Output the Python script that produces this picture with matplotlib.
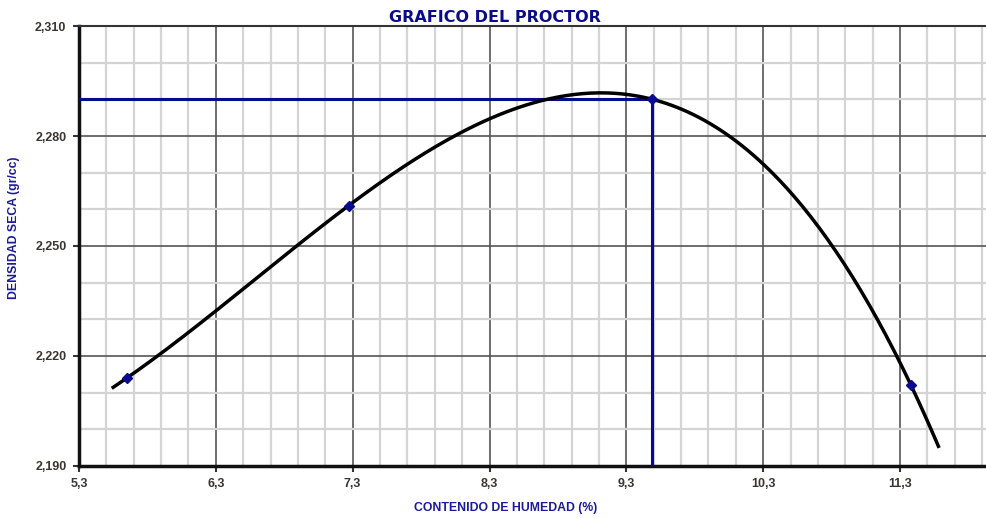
import numpy as np
import matplotlib
matplotlib.use('Agg')
import matplotlib.pyplot as plt
from matplotlib.ticker import FixedLocator, FuncFormatter

# Ensayo Proctor: puntos medidos
humedad = [5.65, 7.27, 9.49, 11.38]
densidad = [2.214, 2.261, 2.290, 2.212]

# Tramo de la linea de tendencia (polinomica de grado 3)
tendencia_desde = 5.55
tendencia_hasta = 11.58

# Humedad optima y densidad maxima
och = 9.49
mds = 2.290

x_ticks = [5.3, 6.3, 7.3, 8.3, 9.3, 10.3, 11.3]
y_ticks = [2.190, 2.220, 2.250, 2.280, 2.310]

plt.rcParams['font.family'] = ['Liberation Sans', 'DejaVu Sans']

fig = plt.figure(figsize=(9.87, 5.18), dpi=100)
ax = fig.add_axes([0.080, 0.1004, 0.92, 0.8494])

ax.set_xlim(5.3, 11.935)
ax.set_ylim(2.190, 2.310)
ax.xaxis.set_major_locator(FixedLocator(x_ticks))
ax.xaxis.set_minor_locator(FixedLocator([round(5.3 + 0.2 * i, 2) for i in range(34)]))
ax.yaxis.set_major_locator(FixedLocator(y_ticks))
ax.yaxis.set_minor_locator(FixedLocator([round(2.19 + 0.01 * i, 3) for i in range(13)]))
ax.xaxis.set_major_formatter(FuncFormatter(lambda v, p: f'{v:.1f}'.replace('.', ',')))
ax.yaxis.set_major_formatter(FuncFormatter(lambda v, p: f'{v:.3f}'.replace('.', ',')))

ax.grid(which='minor', color='#d4d4d4', linewidth=1.6)
ax.grid(which='major', color='#555555', linewidth=1.2)
ax.set_axisbelow(True)

ax.tick_params(which='minor', length=0)
ax.tick_params(which='major', length=4, width=1.5, color='#333333',
               labelsize=9, labelcolor='#3a3530', pad=5)
for lab in ax.get_xticklabels() + ax.get_yticklabels():
    lab.set_fontweight('bold')

for side in ['left', 'bottom']:
    ax.spines[side].set_linewidth(2.5)
    ax.spines[side].set_color('#111111')
ax.spines['top'].set_linewidth(1.5)
ax.spines['top'].set_color('#333333')
ax.spines['right'].set_visible(False)

# Lineas de lectura
ax.plot([5.3, och], [mds, mds], color='#0a0a8c', linewidth=2.2, zorder=3)
ax.plot([och, och], [2.190, mds], color='#0a0a8c', linewidth=2.2, zorder=3)

# Linea de tendencia polinomica (grado 3) de los puntos medidos
coef = np.polyfit(humedad, densidad, 3)
xs = np.linspace(tendencia_desde, tendencia_hasta, 300)
ax.plot(xs, np.polyval(coef, xs), color='black', linewidth=2.5, zorder=4)

ax.plot(humedad, densidad, linestyle='none', marker='D', markersize=5,
        color='#0a0a8c', zorder=5)

fig.text(0.501, 0.967, 'GRAFICO DEL PROCTOR', ha='center', va='center',
         fontsize=11.5, fontweight='heavy', color='#0a0a8c', family='DejaVu Sans')
fig.text(0.512, 0.019, 'CONTENIDO DE HUMEDAD (%)', ha='center', va='center',
         fontsize=8.8, fontweight='bold', color='#1a1a9c')
fig.text(0.014, 0.56, 'DENSIDAD SECA (gr/cc)', ha='center', va='center',
         rotation=90, fontsize=8.8, fontweight='bold', color='#1a1a9c')

fig.savefig('out.png', dpi=100)
